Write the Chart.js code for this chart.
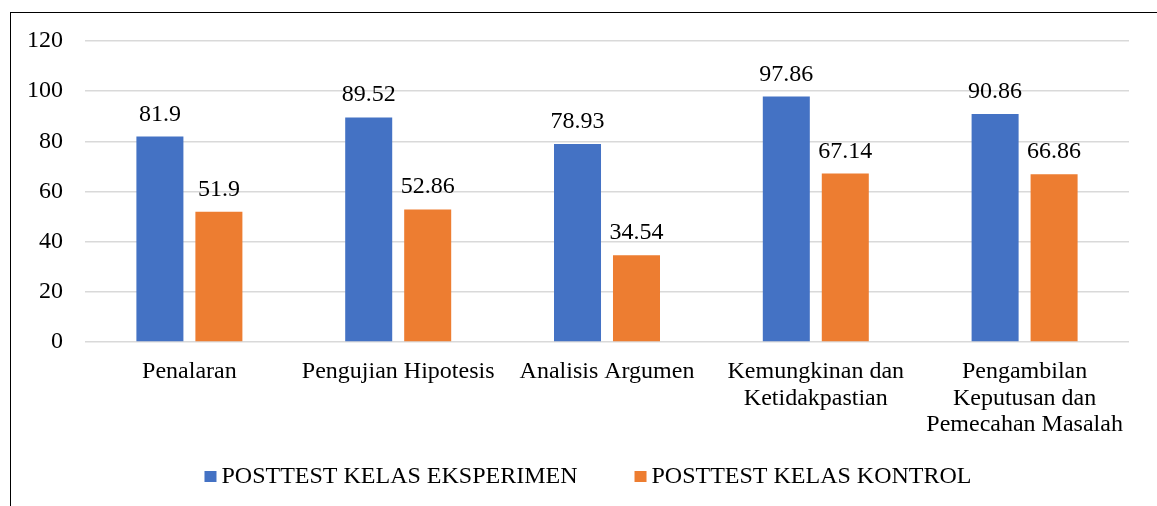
<!DOCTYPE html>
<html>
<head>
<meta charset="utf-8">
<script src="https://cdn.jsdelivr.net/npm/chart.js@4/dist/chart.umd.min.js"></script>
<style>
  html, body { margin: 0; padding: 0; background: #fff; }
  body { width: 1157px; height: 506px; overflow: hidden; position: relative; }
  #frame { position: absolute; left: 10px; top: 12px; width: 1147px; height: 494px;
           border-left: 1px solid #000; border-top: 1px solid #000; }
  #wrap { position: absolute; left: 11px; top: 13px; width: 1146px; height: 493px; }
</style>
</head>
<body>
<div id="frame"></div>
<div id="wrap"><canvas id="graph-container"></canvas></div>
<script>
// Categories (multi-line where the original wraps)
const categories = [
  'Penalaran',
  'Pengujian Hipotesis',
  'Analisis Argumen',
  ['Kemungkinan dan', 'Ketidakpastian'],
  ['Pengambilan', 'Keputusan dan', 'Pemecahan Masalah']
];
const seriesNames = ['POSTTEST KELAS EKSPERIMEN', 'POSTTEST KELAS KONTROL'];
const eksperimen = [81.9, 89.52, 78.93, 97.86, 90.86];
const kontrol = [51.9, 52.86, 34.54, 67.14, 66.86];
const yTicks = [0, 20, 40, 60, 80, 100, 120];

const FONT = "'Liberation Serif', 'Times New Roman', serif";

// Draw the value above each bar
const valueLabels = {
  id: 'valueLabels',
  afterDatasetsDraw(chart) {
    const ctx = chart.ctx;
    ctx.save();
    ctx.font = `24px ${FONT}`;
    ctx.fillStyle = '#000';
    ctx.textAlign = 'center';
    ctx.textBaseline = 'alphabetic';
    chart.data.datasets.forEach((ds, i) => {
      chart.getDatasetMeta(i).data.forEach((bar, j) => {
        ctx.fillText(String(ds.data[j]), bar.x, bar.y - 16);
      });
    });
    ctx.restore();
  }
};

// Office-style legend: small square, tight gap to the text, wide gap between items
const bottomLegend = {
  id: 'bottomLegend',
  afterDraw(chart) {
    const ctx = chart.ctx;
    const box = 12, gap = 5, itemGap = 57;
    ctx.save();
    ctx.font = `24px ${FONT}`;
    ctx.textBaseline = 'middle';
    ctx.textAlign = 'left';
    const items = chart.data.datasets.map(ds => ({
      text: ds.label, color: ds.backgroundColor, w: ctx.measureText(ds.label).width
    }));
    const total = items.reduce((s, it) => s + box + gap + it.w, 0) + itemGap * (items.length - 1);
    let x = 577 - total / 2;
    const y = 463;
    items.forEach(it => {
      ctx.fillStyle = it.color;
      ctx.fillRect(x, y - 5, box, 11);
      ctx.fillStyle = '#000';
      ctx.fillText(it.text, x + box + gap, y + 1);
      x += box + gap + it.w + itemGap;
    });
    ctx.restore();
  }
};

const ctx = document.getElementById('graph-container');
new Chart(ctx, {
  type: 'bar',
  data: {
    labels: categories,
    datasets: [
      { label: seriesNames[0], data: eksperimen, backgroundColor: '#4472C4' },
      { label: seriesNames[1], data: kontrol, backgroundColor: '#ED7D31' }
    ]
  },
  options: {
    responsive: true,
    maintainAspectRatio: false,
    animation: false,
    categoryPercentage: 0.565,
    barPercentage: 0.797,
    layout: { padding: { top: 28, right: 28, left: 0, bottom: 0 } },
    plugins: {
      tooltip: { enabled: false },
      legend: { display: false }
    },
    scales: {
      x: {
        afterFit(scale) { scale.height = 164; },
        grid: { display: false, drawTicks: false },
        border: { display: false },
        ticks: {
          color: '#000',
          font: { family: FONT, size: 24, lineHeight: 1.12 },
          padding: 16,
          maxRotation: 0,
          autoSkip: false
        }
      },
      y: {
        min: 0,
        max: 120,
        afterFit(scale) {
          scale.width = 74;
          scale.paddingTop = 0;
          scale.paddingBottom = 0;
        },
        afterBuildTicks(scale) { scale.ticks = yTicks.map(v => ({ value: v })); },
        grid: { color: '#d9d9d9', lineWidth: 1.5, drawTicks: false },
        border: { display: false },
        ticks: {
          color: '#000',
          font: { family: FONT, size: 24 },
          padding: 22
        }
      }
    }
  },
  plugins: [valueLabels, bottomLegend]
});
</script>
</body>
</html>
